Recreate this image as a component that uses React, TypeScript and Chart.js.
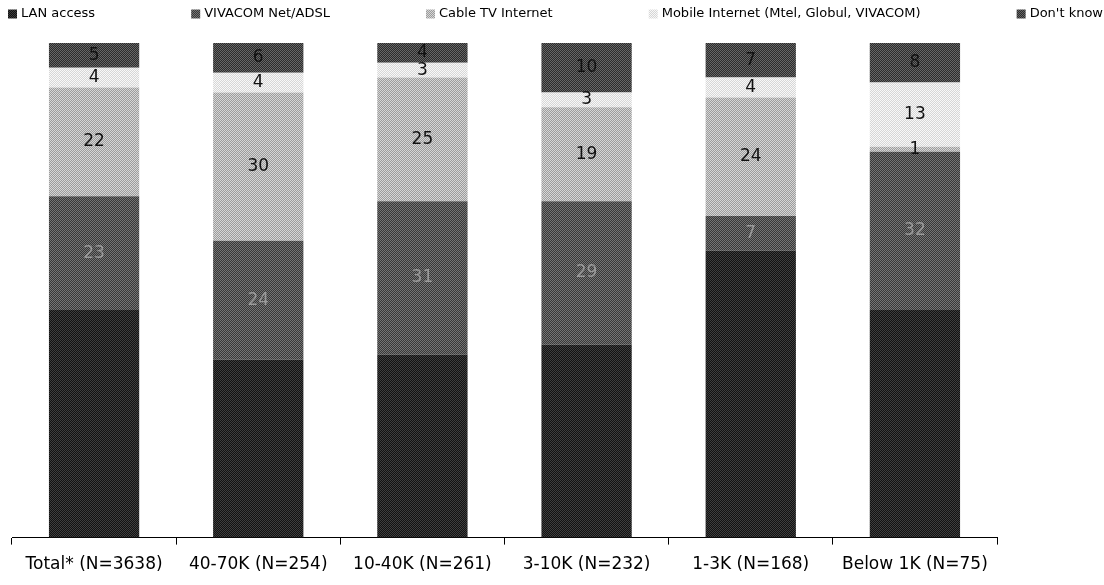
import React, { useEffect, useRef } from 'react';
import { Chart, registerables } from 'chart.js';

Chart.register(...registerables);

const categories = [
  'Total* (N=3638)',
  '40-70K (N=254)',
  '10-40K (N=261)',
  '3-10K (N=232)',
  '1-3K (N=168)',
  'Below 1K (N=75)',
];

const seriesNames = [
  'LAN access',
  'VIVACOM Net/ADSL',
  'Cable TV Internet',
  'Mobile Internet (Mtel, Globul, VIVACOM)',
  "Don't know",
];

const lanAccess = [46, 36, 37, 39, 58, 46];
const vivacomAdsl = [23, 24, 31, 29, 7, 32];
const cableTv = [22, 30, 25, 19, 24, 1];
const mobileInternet = [4, 4, 3, 3, 4, 13];
const dontKnow = [5, 6, 4, 10, 7, 8];

const seriesValues = [lanAccess, vivacomAdsl, cableTv, mobileInternet, dontKnow];

// two-tone halftone look for each series
const seriesTones: [string, string][] = [
  ['#121212', '#3e3e3e'],
  ['#383838', '#747474'],
  ['#9c9c9c', '#d6d6d6'],
  ['#d6d6d6', '#f8f8f8'],
  ['#2c2c2c', '#666666'],
];

const labelColors: (string | null)[] = [null, '#9a9a9a', '#111111', '#111111', '#111111'];

const FONT = '"DejaVu Sans", Verdana, sans-serif';

export default function App() {
  const ref = useRef<HTMLCanvasElement>(null);

  useEffect(() => {
    document.body.style.margin = '0';
    const canvas = ref.current!;
    const mainCtx = canvas.getContext('2d')!;

    const makePattern = (a: string, b: string) => {
      const c = document.createElement('canvas');
      c.width = 2;
      c.height = 2;
      const g = c.getContext('2d')!;
      g.fillStyle = a;
      g.fillRect(0, 0, 2, 2);
      g.fillStyle = b;
      g.fillRect(0, 0, 1, 1);
      g.fillRect(1, 1, 1, 1);
      return mainCtx.createPattern(c, 'repeat') as CanvasPattern;
    };

    const fills = seriesTones.map(([a, b]) => makePattern(a, b));

    const segmentLabels = {
      id: 'segmentLabels',
      afterDatasetsDraw(chart: any) {
        const ctx = chart.ctx;
        ctx.save();
        ctx.font = `17px ${FONT}`;
        ctx.textAlign = 'center';
        ctx.textBaseline = 'middle';
        chart.data.datasets.forEach((d: any, di: number) => {
          const color = labelColors[di];
          if (!color) return;
          const meta = chart.getDatasetMeta(di);
          meta.data.forEach((el: any, i: number) => {
            const v = d.data[i];
            const p = el.getProps(['x', 'y', 'base'], true);
            ctx.fillStyle = color;
            ctx.fillText(String(v), p.x, (p.y + p.base) / 2);
          });
        });
        ctx.restore();
      },
    };

    const spreadLegend = {
      id: 'spreadLegend',
      afterDraw(chart: any) {
        const ctx = chart.ctx;
        const ds = chart.data.datasets;
        ctx.save();
        ctx.font = `13px ${FONT}`;
        const box = 9;
        const gapBoxText = 4;
        const widths = ds.map((d: any) => box + gapBoxText + ctx.measureText(d.label).width);
        const total = widths.reduce((a: number, b: number) => a + b, 0);
        const left = 8;
        const right = chart.width - 1;
        const gap = (right - left - total) / (ds.length - 1);
        let x = left;
        const y = 14;
        ctx.textAlign = 'left';
        ctx.textBaseline = 'middle';
        ds.forEach((d: any, i: number) => {
          ctx.fillStyle = d.backgroundColor;
          ctx.fillRect(x, y - box / 2, box, box);
          ctx.fillStyle = '#000';
          ctx.fillText(d.label, x + box + gapBoxText, y);
          x += widths[i] + gap;
        });
        ctx.restore();
      },
    };

    const chart = new Chart(canvas, {
      type: 'bar',
      data: {
        labels: categories,
        datasets: seriesNames.map((name, i) => ({
          label: name,
          data: seriesValues[i],
          backgroundColor: fills[i] as any,
          borderWidth: 0,
          categoryPercentage: 1,
          barPercentage: 0.55,
        })),
      },
      options: {
        responsive: false,
        animation: false,
        layout: { padding: { top: 43, left: 12, right: 107, bottom: 0 } },
        plugins: {
          legend: { display: false },
          tooltip: { enabled: false },
        },
        scales: {
          x: {
            stacked: true,
            grid: {
              display: true,
              drawOnChartArea: false,
              drawTicks: true,
              tickLength: 7,
              color: '#000',
              offset: true,
            },
            border: { display: true, color: '#000', width: 1 },
            ticks: {
              color: '#000',
              font: { family: FONT, size: 17 },
              autoSkip: false,
              maxRotation: 0,
              minRotation: 0,
              padding: 10,
            },
          },
          y: {
            stacked: true,
            display: false,
            min: 0,
            max: 100,
          },
        },
      },
      plugins: [segmentLabels, spreadLegend],
    });

    return () => chart.destroy();
  }, []);

  return (
    <div style={{ width: 1104, height: 585 }}>
      <canvas ref={ref} width={1104} height={585} style={{ display: 'block' }} />
    </div>
  );
}
